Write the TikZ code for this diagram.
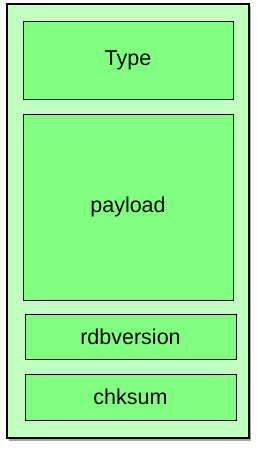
\documentclass[tikz,border=0pt]{standalone}
\usepackage{fontspec}
\setmainfont{Liberation Sans}
\usetikzlibrary{shadows}
\definecolor{framegreen}{RGB}{192,255,192}
\definecolor{fieldgreen}{RGB}{128,255,128}

\begin{document}
\begin{tikzpicture}[
    x=1pt, y=-1pt,
    frame/.style={draw, line width=1.2pt, fill=framegreen,
                  minimum width=242pt, minimum height=434pt,
                  inner sep=0pt,
                  drop shadow={shadow xshift=2pt, shadow yshift=-3pt,
                               opacity=0.35, fill=black}},
    field/.style={draw, line width=1pt, fill=fieldgreen,
                  minimum width=210pt, inner sep=0pt,
                  font=\fontsize{21.5}{26}\selectfont}
  ]
  \useasboundingbox (0,0) rectangle (257,451);

  \node[frame] (packet) at (128,221) {};

  \node[field, minimum height=78pt] (type) at (128,60) {Type};
  \node[field, minimum height=186pt] (payload) at (128,207) {payload};
  \node[field, minimum width=211pt, minimum height=45pt] (rdbver) at (130.5,336.5) {rdbversion};
  \node[field, minimum width=211pt, minimum height=46pt] (chksum) at (130.5,397) {chksum};

\end{tikzpicture}
\end{document}
